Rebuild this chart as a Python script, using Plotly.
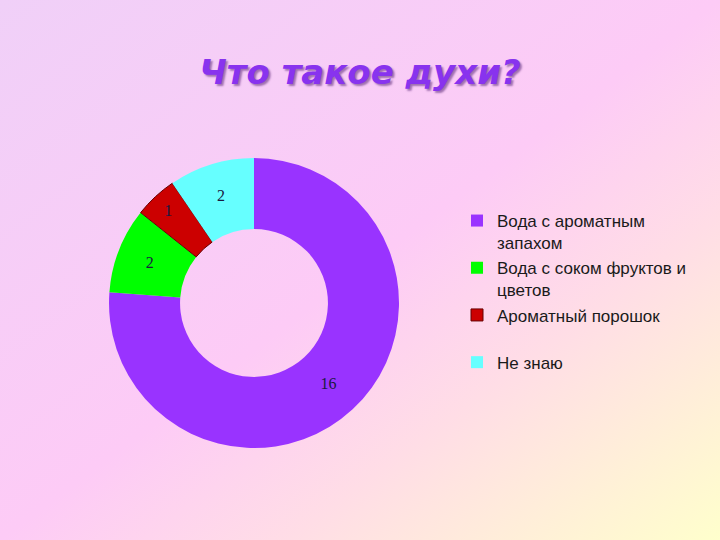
import plotly.graph_objects as go
import urllib.parse

labels = ["Вода с ароматным<br>запахом", "Вода с соком фруктов и<br>цветов",
          "Ароматный порошок<br>&nbsp;", "Не знаю"]
values = [16, 2, 1, 2]
colors = ["#9933FF", "#00FF00", "#CC0000", "#66FFFF"]

svg = ('<svg xmlns="http://www.w3.org/2000/svg" width="720" height="540" preserveAspectRatio="none">'
       '<defs><linearGradient id="g" x1="0" y1="0" x2="1" y2="1">'
       '<stop offset="0" stop-color="#F0D0F8"/>'
       '<stop offset="0.5" stop-color="#FDCBF6"/>'
       '<stop offset="0.7" stop-color="#FFDDE6"/>'
       '<stop offset="1" stop-color="#FFFFCC"/>'
       '</linearGradient></defs>'
       '<rect width="720" height="540" fill="url(#g)"/></svg>')
bg = "data:image/svg+xml;charset=utf-8," + urllib.parse.quote(svg)

fig = go.Figure(go.Pie(
    labels=labels, values=values, hole=0.51, sort=False, direction="clockwise",
    rotation=0,
    marker=dict(colors=colors, line=dict(color=["rgba(0,0,0,0)", "rgba(0,0,0,0)", "#660000", "rgba(0,0,0,0)"], width=1)),
    textinfo="value", textposition="inside", insidetextorientation="horizontal",
    textfont=dict(family="Liberation Serif", size=16, color="#1A1A40"),
    domain=dict(x=[109/720, 399/720], y=[1-448/540, 1-158/540]),
))

fig.update_layout(
    width=720, height=540,
    margin=dict(l=0, r=0, t=0, b=0),
    paper_bgcolor="#FDCBF6", plot_bgcolor="rgba(0,0,0,0)",
    images=[dict(source=bg, xref="paper", yref="paper", x=0, y=1, sizex=1, sizey=1,
                 sizing="stretch", xanchor="left", yanchor="top", layer="below")],
    title=dict(text="<b><i>Что такое духи?</i></b>", x=0.5, xanchor="center", y=1-72/540, yanchor="middle",
               font=dict(family="DejaVu Sans", size=34, color="#8833EE",
                         shadow="2px 2px 2px #A070B0")),
    legend=dict(x=457/720, y=1-203/540, xanchor="left", yanchor="top", valign="top",
                bgcolor="rgba(0,0,0,0)",
                font=dict(family="Liberation Sans", size=17, color="#1A1A1A")),
    showlegend=True,
)

fig.write_html("out.html", config={"displayModeBar": False},
               post_script="document.body.style.margin='0';document.body.style.overflow='hidden';")
